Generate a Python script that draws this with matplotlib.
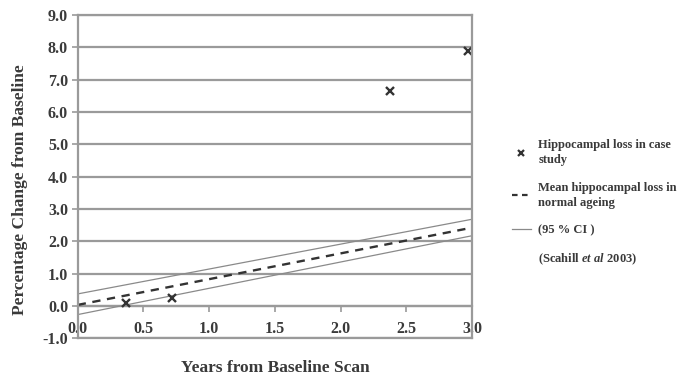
import matplotlib
matplotlib.use("Agg")
import matplotlib.pyplot as plt
from matplotlib.lines import Line2D

# case study scans
case_years = [0.37, 0.72, 2.38, 2.97]
case_change = [0.1, 0.25, 6.65, 7.9]

# normal ageing trend (Scahill et al 2003)
trend_years = [0.0, 3.0]
mean_loss = [0.03, 2.42]
ci_upper = [0.37, 2.68]
ci_lower = [-0.27, 2.17]

x_ticks = [0.0, 0.5, 1.0, 1.5, 2.0, 2.5, 3.0]
y_ticks = list(range(-1, 10))

plt.rcParams["font.family"] = "Liberation Serif"
plt.rcParams["font.weight"] = "bold"
plt.rcParams["axes.labelweight"] = "bold"
plt.rcParams["mathtext.fontset"] = "custom"
plt.rcParams["mathtext.rm"] = "Liberation Serif:bold"
plt.rcParams["mathtext.it"] = "Liberation Serif:italic:bold"

txt = "#3a3a3a"
grid = "#9a9a9a"

fig = plt.figure(figsize=(6.88, 3.77), dpi=100)
ax = fig.add_axes([0.113, 0.103, 0.573, 0.857])

ax.plot(trend_years, ci_upper, color="#8a8a8a", lw=0.9)
ax.plot(trend_years, ci_lower, color="#8a8a8a", lw=0.9)
ax.plot(trend_years, mean_loss, color="#333333", lw=1.7, ls=(0, (3.5, 2.8)))
ax.plot(case_years, case_change, ls="none", marker="x", ms=6, mew=1.7,
        color="#333333", clip_on=False)

ax.set_xlim(0, 3)
ax.set_ylim(-1, 9)
ax.set_yticks(y_ticks)
ax.set_yticklabels([f"{v:.1f}" for v in y_ticks])
ax.set_xticks(x_ticks)
ax.set_xticklabels([f"{v:.1f}" for v in x_ticks])
ax.yaxis.grid(True, color=grid, lw=1.6)
ax.set_axisbelow(True)

for s in ["left", "right", "top", "bottom"]:
    ax.spines[s].set_color(grid)
    ax.spines[s].set_linewidth(1.6)
ax.tick_params(axis="y", direction="out", length=4, color=grid, width=1.2,
               labelsize=11.5, labelcolor=txt, pad=3)
ax.tick_params(axis="x", length=0, labelsize=11.5, labelcolor=txt, pad=-1)
for lbl in ax.get_xticklabels():
    lbl.set_verticalalignment("bottom")

# horizontal axis crosses at 0, tick marks there
sec = ax.secondary_xaxis(0.1)
sec.set_xticks(x_ticks)
sec.set_xticklabels([])
sec.spines["bottom"].set_color(grid)
sec.spines["bottom"].set_linewidth(1.6)
sec.tick_params(direction="out", length=4, color=grid, width=1.2)

ax.set_xlabel("Years from Baseline Scan", fontsize=12.5, color=txt, labelpad=16)
ax.set_ylabel("Percentage Change from Baseline", fontsize=12.5, color=txt)
ax.yaxis.set_label_coords(-0.125, 0.46)

handles = [
    Line2D([], [], ls="none", marker="x", ms=5, mew=1.6, color="#333333"),
    Line2D([], [], color="#333333", lw=1.6, ls=(0, (2.5, 2))),
    Line2D([], [], color="#8a8a8a", lw=0.9),
]
labels = ["Hippocampal loss in case\nstudy",
          "Mean hippocampal loss in\nnormal ageing",
          "(95 % CI )"]
fig.legend(handles, labels, loc="upper left", bbox_to_anchor=(0.735, 0.648),
           frameon=False, labelcolor=txt, handlelength=1.5,
           handletextpad=0.6, labelspacing=1.25, borderpad=0,
           prop={"size": 9, "weight": "bold"})
for t in fig.legends[0].get_texts():
    t.set_linespacing(1.35)
fig.text(0.782, 0.311, r"(Scahill $\it{et\ al}$ 2003)", fontsize=9, color=txt,
         va="center")

fig.savefig("out.png", dpi=100)
